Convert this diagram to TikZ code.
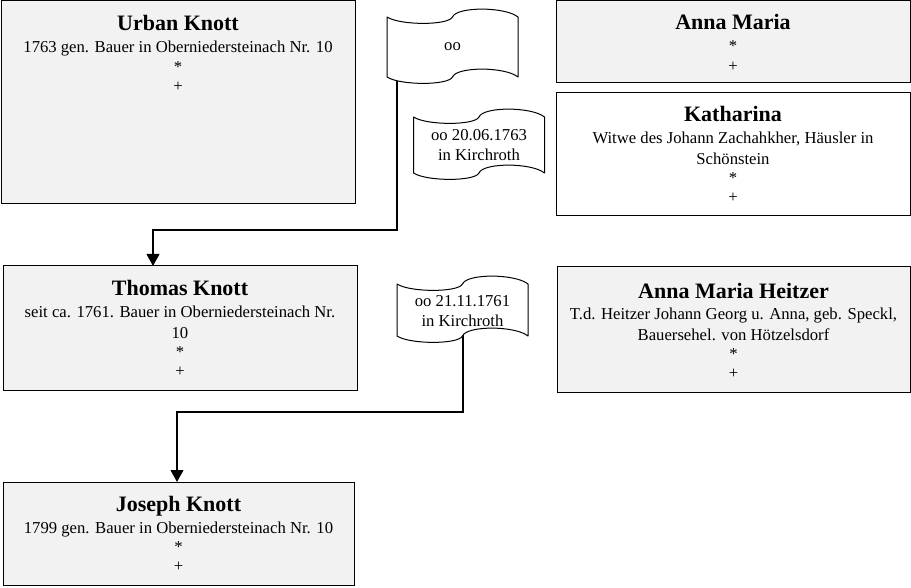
\documentclass[tikz,border=0pt]{standalone}
\usepackage{fontspec}
\setmainfont{Liberation Serif}
\usetikzlibrary{arrows.meta,calc}
\definecolor{boxgray}{HTML}{F2F2F2}
\pgfdeclarelayer{conns}
\pgfdeclarelayer{waves}
\pgfsetlayers{conns,waves,main}
\newcommand\titlefont{\fontsize{16.5pt}{16pt}\selectfont\bfseries}
\newcommand\regfont{\fontsize{12.5pt}{14.5pt}\selectfont}
\newcommand\ptext[1]{\parbox[t]{262pt}{\centering\lineskiplimit=-20pt\regfont #1}}
% wavy banner outline around a named rectangle node
\newcommand\wave[1]{%
  \path[wavepath]
    (#1.north west) .. controls +(13,8.5) and +(-4,8.5) .. (#1.north)
    .. controls +(4,-10.5) and +(-13,-10.5) .. (#1.north east)
    -- (#1.south east) .. controls +(-13,-10.5) and +(4,-10.5) .. (#1.south)
    .. controls +(-4,8.5) and +(13,8.5) .. (#1.south west) -- cycle;}
\tikzset{
  box/.style={draw, line width=0.75pt, anchor=north west, inner sep=0pt, outer sep=0pt},
  graybox/.style={box, fill=boxgray},
  whitebox/.style={box, fill=white},
  txt/.style={anchor=base, inner sep=0pt},
  bannerarea/.style={rectangle, inner sep=0pt, outer sep=0pt, minimum width=98.25pt},
  bannertext/.style={align=center, font=\regfont, inner sep=0pt},
  wavepath/.style={draw, fill=white, line width=0.75pt, line join=round},
  conn/.style={line width=1.5pt, -{Triangle[width=9.5pt,length=9pt]}}
}
\begin{document}
\begin{tikzpicture}[x=0.75pt,y=-0.75pt]
\useasboundingbox (0,0) rectangle (911,588);
% person boxes
\node[graybox, minimum width=265.5pt, minimum height=152.25pt] (urban) at (1,1) {};
\node[graybox, minimum width=265.5pt, minimum height=61.5pt] (annam) at (556,1) {};
\node[whitebox, minimum width=265.5pt, minimum height=92.25pt] (kath) at (556,93) {};
\node[graybox, minimum width=265.5pt, minimum height=93pt] (thomas) at (3,266) {};
\node[graybox, minimum width=264.75pt, minimum height=93.75pt] (amh) at (557,267) {};
\node[graybox, minimum width=263.25pt, minimum height=77.25pt] (joseph) at (3,482) {};
% texts
\node[txt] (urbanT) at ($(urban.north)+(0,30)$) {\ptext{{\titlefont Urban Knott}\\[2pt]1763 gen. Bauer in Oberniedersteinach Nr. 10\\{*}\\{+}}};
\node[txt] (annamT) at ($(annam.north)+(0,29)$) {\ptext{{\titlefont Anna Maria}\\[2pt]{*}\\{+}}};
\node[txt] (kathT) at ($(kath.north)+(0,29)$) {\ptext{{\titlefont Katharina}\\[2pt]Witwe des Johann Zachahkher, Häusler in\\[0.6pt]Schönstein\\{*}\\{+}}};
\node[txt] (thomasT) at ($(thomas.north)+(0,30)$) {\ptext{{\titlefont Thomas Knott}\\[2pt]seit ca. 1761. Bauer in Oberniedersteinach Nr.\\[0.6pt]10\\{*}\\{+}}};
\node[txt] (amhT) at ($(amh.north)+(0,31)$) {\ptext{{\titlefont Anna Maria Heitzer}\\[2pt]T.d. Heitzer Johann Georg u. Anna, geb. Speckl,\\[0.6pt]Bauersehel. von Hötzelsdorf\\{*}\\{+}}};
\node[txt] (josephT) at ($(joseph.north)+(0,29)$) {\ptext{{\titlefont Joseph Knott}\\[2pt]1799 gen. Bauer in Oberniedersteinach Nr. 10\\{*}\\{+}}};
% marriage banners
\node[bannerarea, minimum height=45pt] (b1) at (452.5,47) {};
\node[bannerarea, minimum height=42pt] (b2) at (479,145) {};
\node[bannerarea, minimum height=39pt] (b3) at (462.5,310) {};
\begin{pgfonlayer}{waves}
\wave{b1}
\wave{b2}
\wave{b3}
\end{pgfonlayer}
\node[bannertext] (b1T) at (b1.center) {oo};
\node[bannertext] (b2T) at (b2.center) {oo 20.06.1763\\[1pt]in Kirchroth};
\node[bannertext] (b3T) at ($(b3.center)+(0,1)$) {oo 21.11.1761\\[1pt]in Kirchroth};
% connectors
\coordinate (k1) at (153,230);
\coordinate (k2) at (177,412);
\begin{pgfonlayer}{conns}
\draw[conn] ([xshift=7.5pt]b1.west) |- (k1) -- (k1 |- thomas.north);
\draw[conn] (b3.center) |- (k2) -- (k2 |- joseph.north);
\end{pgfonlayer}
\end{tikzpicture}
\end{document}
